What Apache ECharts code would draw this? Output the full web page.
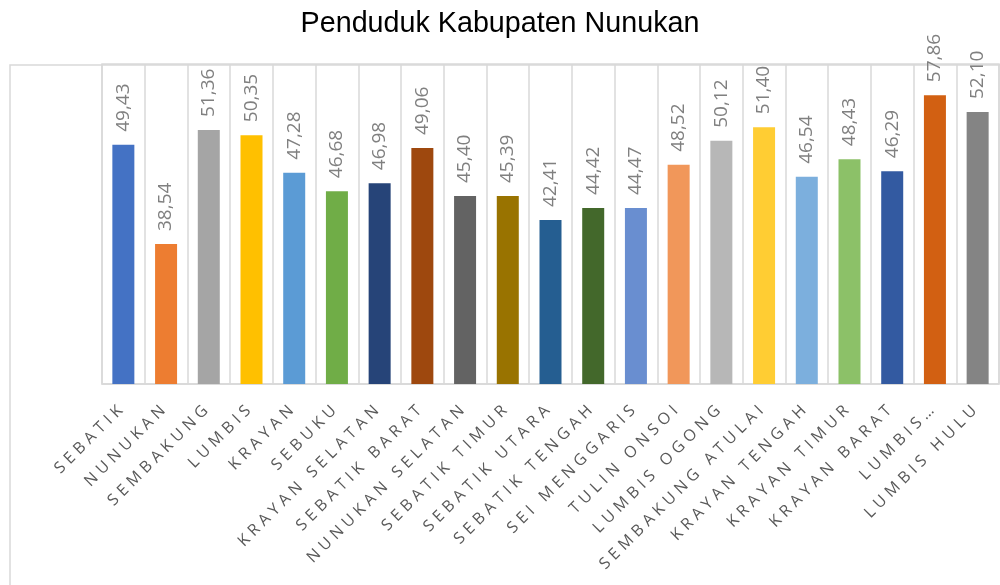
<!DOCTYPE html>
<html>
<head>
    <meta charset="utf-8">
    <title>Penduduk Kabupaten Nunukan</title>
    <script src="https://cdn.jsdelivr.net/npm/echarts@6.0.0/dist/echarts.min.js"></script>
    <style>
        body { margin: 0; background: #fff; }
    </style>
</head>
<body>
    <div id="main" style="width: 1000px; height: 585px;"></div>

    <script>
        // nama kecamatan
        var kecamatan = ['SEBATIK', 'NUNUKAN', 'SEMBAKUNG', 'LUMBIS', 'KRAYAN', 'SEBUKU',
            'KRAYAN SELATAN', 'SEBATIK BARAT', 'NUNUKAN SELATAN', 'SEBATIK TIMUR', 'SEBATIK UTARA',
            'SEBATIK TENGAH', 'SEI MENGGARIS', 'TULIN ONSOI', 'LUMBIS OGONG', 'SEMBAKUNG ATULAI',
            'KRAYAN TENGAH', 'KRAYAN TIMUR', 'KRAYAN BARAT', 'LUMBIS…', 'LUMBIS HULU'];

        // tinggi batang
        var tinggiBatang = [49.9, 37.5, 51.75, 51.1, 46.4, 44.1, 45.1, 49.5, 43.5, 43.5, 40.5,
            42.0, 42.0, 47.4, 50.4, 52.1, 45.9, 48.1, 46.6, 56.1, 54.0];

        // angka yang tertulis di atas batang
        var angkaLabel = ['49,43', '38,54', '51,36', '50,35', '47,28', '46,68', '46,98', '49,06',
            '45,40', '45,39', '42,41', '44,42', '44,47', '48,52', '50,12', '51,40', '46,54',
            '48,43', '46,29', '57,86', '52,10'];

        var warna = ['#4472C4', '#ED7D31', '#A5A5A5', '#FFC000', '#5B9BD5', '#70AD47', '#264478',
            '#9E480E', '#636363', '#997300', '#255E91', '#43682B', '#698ED0', '#F1975A', '#B7B7B7',
            '#FFCD33', '#7CAFDD', '#8CC168', '#335AA1', '#D26012', '#848484'];

        // jarak huruf hanya untuk label sumbu x (font 16px)
        var asliFillText = CanvasRenderingContext2D.prototype.fillText;
        CanvasRenderingContext2D.prototype.fillText = function () {
            var f = this.font;
            var spasi = (/(^|\s)16px/.test(f)) ? '4.6px' : '0px';
            if (this.letterSpacing !== spasi) {
                this.letterSpacing = spasi;
                this.font = f;
            }
            return asliFillText.apply(this, arguments);
        };

        var chartDom = document.getElementById('main');
        var myChart = echarts.init(chartDom, null, { renderer: 'canvas' });

        var data = [];
        for (var i = 0; i < tinggiBatang.length; i++) {
            data.push({
                value: tinggiBatang[i],
                itemStyle: { color: warna[i] }
            });
        }

        var option = {
            animation: false,
            title: {
                text: 'Penduduk Kabupaten Nunukan',
                left: 'center',
                top: 5,
                textStyle: {
                    fontFamily: 'Liberation Sans',
                    fontSize: 28.7,
                    fontWeight: 'normal',
                    color: '#000'
                }
            },
            graphic: [{
                type: 'rect',
                shape: { x: 10, y: 65, width: 1000, height: 600 },
                style: { fill: 'none', stroke: '#d9d9d9', lineWidth: 1.5 },
                silent: true
            }],
            grid: {
                left: 102,
                right: 1,
                top: 64,
                bottom: 201,
                show: true,
                borderColor: '#d9d9d9',
                borderWidth: 1.5
            },
            xAxis: {
                type: 'category',
                data: kecamatan,
                axisLine: { lineStyle: { color: '#d9d9d9', width: 1.5 } },
                axisTick: { show: false },
                splitLine: { show: true, lineStyle: { color: '#d9d9d9', width: 1.5 } },
                axisLabel: {
                    interval: 0,
                    rotate: 45,
                    margin: 21,
                    fontFamily: 'Open Sans',
                    fontSize: 16,
                    color: '#595959'
                }
            },
            yAxis: {
                type: 'value',
                min: 20,
                max: 60,
                show: false
            },
            series: [{
                type: 'bar',
                barWidth: 22,
                data: data,
                label: {
                    show: true,
                    position: 'top',
                    distance: 13,
                    rotate: 90,
                    align: 'left',
                    verticalAlign: 'middle',
                    fontFamily: 'Open Sans',
                    fontSize: 19,
                    color: '#808080',
                    formatter: function (p) {
                        return angkaLabel[p.dataIndex];
                    }
                }
            }]
        };

        myChart.setOption(option);
    </script>
</body>
</html>
